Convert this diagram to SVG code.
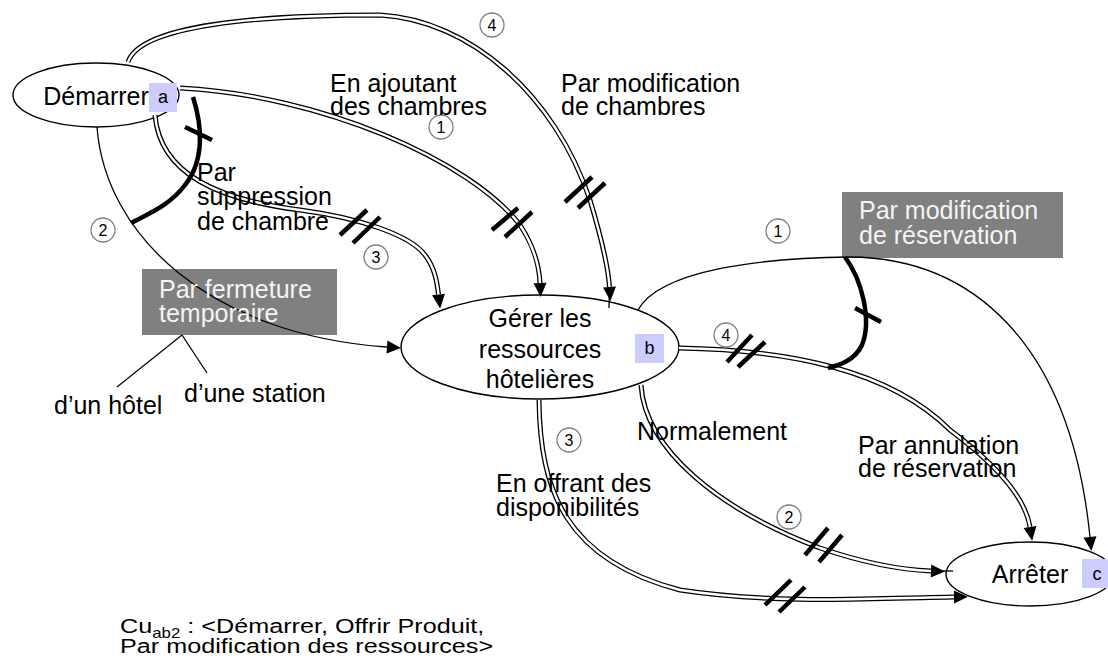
<svg xmlns="http://www.w3.org/2000/svg" width="1108" height="664" viewBox="0 0 1108 664">
<style>
text{font-family:"Liberation Sans",Arial,sans-serif;fill:#000}
.lbl{font-size:25px}
.node{fill:#fff;stroke:#000;stroke-width:1.4}
.tag{fill:#ccccff}
.tagt{font-size:18px;text-anchor:middle}
.box{fill:#808080}
.boxt{font-size:25px;fill:#f4f4f4}
.num circle{fill:none;stroke:#808080;stroke-width:1.3}
.num text{font-size:16px;text-anchor:middle}
.sgl{fill:none;stroke:#000;stroke-width:1.3}
.dblo{fill:none;stroke:#000;stroke-width:5}
.dbli{fill:none;stroke:#fff;stroke-width:2.4}
.thick{fill:none;stroke:#000;stroke-width:4.5}
.tick{stroke:#000;stroke-width:4.5}
</style>
<defs>
<marker id="arr" markerUnits="userSpaceOnUse" markerWidth="14" markerHeight="13" refX="0" refY="6.5" orient="auto" overflow="visible">
<path d="M0,0 L14,6.5 L0,13 z" fill="#000"/>
</marker>
</defs>

<g id="label-boxes">
<rect class="box" x="842" y="192" width="221" height="66"/>
<rect class="box" x="142" y="269" width="195" height="66"/>
</g>

<g id="node-demarrer">
<ellipse class="node" cx="96" cy="95" rx="83" ry="32"/>
<text class="lbl" x="96" y="105" text-anchor="middle">Démarrer</text>
<rect class="tag" x="149" y="83" width="28" height="29"/>
<text class="tagt" x="163" y="103">a</text>
</g>

<g id="node-gerer">
<ellipse class="node" cx="540" cy="347" rx="139" ry="52"/>
<text class="lbl" text-anchor="middle"><tspan x="540" y="327">Gérer les</tspan><tspan x="540" y="358">ressources</tspan><tspan x="540" y="388">hôtelières</tspan></text>
<rect class="tag" x="635" y="334" width="29" height="29"/>
<text class="tagt" x="649.5" y="354">b</text>
</g>

<g id="node-arreter">
<ellipse class="node" cx="1030" cy="574" rx="84" ry="32"/>
<text class="lbl" x="1030" y="583" text-anchor="middle">Arrêter</text>
<rect class="tag" x="1082" y="559" width="29" height="29"/>
<text class="tagt" x="1097" y="580">c</text>
</g>

<g id="connectors">
<path class="dblo" marker-end="url(#arr)" d="M180,88 C320,95 470,160 520,225 C533,245 539,262 540,283"/>
<path class="dbli" d="M180,88 C320,95 470,160 520,225 C533,245 539,262 540,283"/>
<line class="tick" x1="492" y1="230" x2="518" y2="208"/>
<line class="tick" x1="505" y1="237" x2="532" y2="212"/>
<path class="dblo" marker-end="url(#arr)" d="M128,62 C140,25 260,15 380,15 C470,20 555,95 590,200 C602,240 608,265 609.5,287"/>
<path class="dbli" d="M128,62 C140,25 260,15 380,15 C470,20 555,95 590,200 C602,240 608,265 609.5,287"/>
<line class="sgl" x1="609.5" y1="287" x2="609" y2="308"/>
<line class="tick" x1="565" y1="202" x2="592" y2="177"/>
<line class="tick" x1="578" y1="208" x2="605" y2="183"/>
<path class="dblo" marker-end="url(#arr)" d="M155,115 C160,175 220,200 300,210 C360,218 410,235 425,255 C435,268 437,282 438.5,294.5"/>
<path class="dbli" d="M155,115 C160,175 220,200 300,210 C360,218 410,235 425,255 C435,268 437,282 438.5,294.5"/>
<line class="tick" x1="340" y1="235" x2="367" y2="210"/>
<line class="tick" x1="353" y1="243" x2="380" y2="217"/>
<path class="sgl" marker-end="url(#arr)" d="M97,127 C105,235 210,335 387,347"/>
<path class="thick" d="M193,97 C202,125 205,160 185,185 C170,205 150,213 131,223"/>
<line class="tick" x1="185" y1="127" x2="212" y2="140"/>
<line class="sgl" x1="182" y1="335" x2="117" y2="387"/>
<line class="sgl" x1="182" y1="335" x2="207" y2="373"/>
<path class="sgl" marker-end="url(#arr)" d="M638,310 C660,270 760,258 850,257 C970,258 1070,340 1090,537"/>
<path class="dblo" marker-end="url(#arr)" d="M679,348 C790,350 890,370 950,430 C990,460 1025,495 1030,527"/>
<path class="dbli" d="M679,348 C790,350 890,370 950,430 C990,460 1025,495 1030,527"/>
<line class="tick" x1="727" y1="362" x2="752" y2="335"/>
<line class="tick" x1="738" y1="367" x2="765" y2="342"/>
<path class="thick" d="M845,257 C862,280 872,320 862,345 C855,360 840,365 828,368"/>
<line class="tick" x1="855" y1="308" x2="881" y2="322"/>
<path class="dblo" marker-end="url(#arr)" d="M641,385 C645,450 720,510 820,548 C870,565 905,570 931,571"/>
<path class="dbli" d="M641,385 C645,450 720,510 820,548 C870,565 905,570 931,571"/>
<line class="sgl" x1="931" y1="571" x2="953" y2="571"/>
<line class="tick" x1="805" y1="555" x2="828" y2="528"/>
<line class="tick" x1="819" y1="562" x2="842" y2="535"/>
<path class="dblo" marker-end="url(#arr)" d="M539,400 C540,490 565,560 680,590 C780,605 880,598 954,597"/>
<path class="dbli" d="M539,400 C540,490 565,560 680,590 C780,605 880,598 954,597"/>
<line class="tick" x1="765" y1="605" x2="791" y2="580"/>
<line class="tick" x1="779" y1="612" x2="805" y2="587"/>
</g>

<g id="numbers" class="num">
<circle cx="492" cy="25" r="12"/><text x="492" y="30.5">4</text>
<circle cx="441" cy="127" r="12"/><text x="441" y="132.5">1</text>
<circle cx="103" cy="230" r="12"/><text x="103" y="235.5">2</text>
<circle cx="376" cy="257" r="12"/><text x="376" y="262.5">3</text>
<circle cx="778" cy="231" r="12"/><text x="778" y="236.5">1</text>
<circle cx="726" cy="335" r="12"/><text x="726" y="340.5">4</text>
<circle cx="569" cy="440" r="12"/><text x="569" y="445.5">3</text>
<circle cx="789" cy="517" r="12"/><text x="789" y="522.5">2</text>
</g>

<g id="labels">
<text class="lbl"><tspan x="330" y="92">En ajoutant</tspan><tspan x="330" y="115">des chambres</tspan></text>
<text class="lbl"><tspan x="561" y="92">Par modification</tspan><tspan x="561" y="115">de chambres</tspan></text>
<text class="lbl"><tspan x="197" y="181">Par</tspan><tspan x="197" y="205">suppression</tspan><tspan x="197" y="230">de chambre</tspan></text>
<text class="boxt"><tspan x="859" y="219">Par modification</tspan><tspan x="859" y="244">de réservation</tspan></text>
<text class="boxt"><tspan x="159" y="298">Par fermeture</tspan><tspan x="159" y="322">temporaire</tspan></text>
<text class="lbl" x="54" y="414">d’un hôtel</text>
<text class="lbl" x="184" y="402">d’une station</text>
<text class="lbl" x="637" y="440">Normalement</text>
<text class="lbl"><tspan x="858" y="454">Par annulation</tspan><tspan x="858" y="477">de réservation</tspan></text>
<text class="lbl"><tspan x="496" y="492">En offrant des</tspan><tspan x="496" y="516">disponibilités</tspan></text>
<text transform="translate(120,0) scale(1.2,1)" style="font-size:21px"><tspan x="0" y="633">Cu</tspan><tspan style="font-size:14px" dy="5">ab2</tspan><tspan dy="-5"> : &lt;Démarrer, Offrir Produit,</tspan><tspan x="0" y="653">Par modification des ressources&gt;</tspan></text>
</g>
</svg>
